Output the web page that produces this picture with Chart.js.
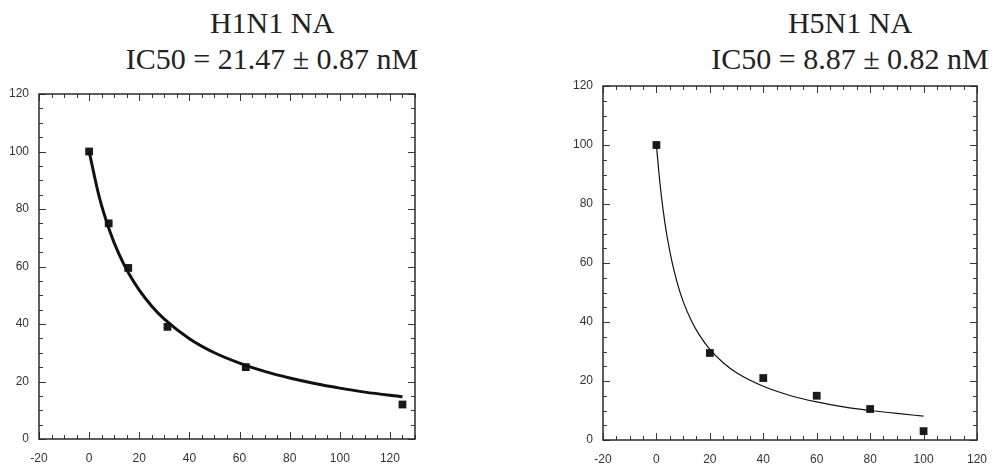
<!DOCTYPE html>
<html>
<head>
<meta charset="UTF-8">
<title>NA IC50</title>
<script src="https://cdn.jsdelivr.net/npm/chart.js"></script>
<style>
  body { margin: 0; background: #fff; width: 999px; height: 469px; position: relative; overflow: hidden; }
  canvas { position: absolute; top: 0; }
  .title {
    position: absolute; top: 5px;
    font-family: 'Liberation Serif', 'Times New Roman', serif;
    font-size: 30px; line-height: 36px; color: #222;
    text-align: center; white-space: nowrap;
    transform: translateX(-50%);
  }
</style>
</head>
<body>
  <div class="title" style="left:272px">H1N1 NA<br>IC50 = 21.47 ± 0.87 nM</div>
  <div class="title" style="left:850px">H5N1 NA<br>IC50 = 8.87 ± 0.82 nM</div>
  <canvas id="h1n1" width="500" height="469" style="left:0"></canvas>
  <canvas id="h5n1" width="499" height="469" style="left:500px"></canvas>

<script>
  // measured points
  const h1Conc = [0, 7.8, 15.6, 31.25, 62.5, 125];
  const h1Inhib = [100, 75, 59.5, 39, 25, 12];
  const h5Conc = [0, 20, 40, 60, 80, 100];
  const h5Inhib = [100, 29.5, 21, 15, 10.5, 3];

  // fitted curves
  const h1FitConc = [0, 4, 8, 12, 16, 20, 25, 30, 40, 50, 60, 70, 80, 90, 100, 110, 125];
  const h1FitInhib = [100, 84.3, 72.9, 64.1, 57.3, 51.8, 46.2, 41.7, 34.9, 30, 26.4, 23.5, 21.2, 19.3, 17.7, 16.3, 14.7];
  const h5FitConc = [0, 1, 2, 3, 4, 6, 8, 10, 13, 16, 20, 25, 30, 40, 50, 60, 70, 80, 90, 100];
  const h5FitInhib = [100, 89.9, 81.6, 74.7, 68.9, 59.7, 52.6, 47, 40.6, 35.7, 30.7, 26.2, 22.8, 18.2, 15.1, 12.9, 11.2, 10, 9, 8.1];

  const yTicks = [0, 20, 40, 60, 80, 100, 120];

  Chart.defaults.font.family = "'Liberation Sans', Arial, sans-serif";
  Chart.defaults.font.size = 12;
  Chart.defaults.color = '#333';

  const toXY = (xs, ys) => xs.map((x, i) => ({ x: x, y: ys[i] }));

  // frame box + inward ticks on all four sides (major every 20, minor every 5)
  const frameTicks = {
    id: 'frameTicks',
    beforeDatasetsDraw(chart) {
      const { ctx, chartArea: a, scales: { x, y } } = chart;
      ctx.save();
      ctx.strokeStyle = '#3a3a3a';
      ctx.lineWidth = 1;
      ctx.beginPath();
      for (let v = x.min; v <= x.max; v += 5) {
        const px = Math.round(x.getPixelForValue(v)) + 0.5;
        const len = v % 20 === 0 ? 7 : 4;
        ctx.moveTo(px, a.bottom); ctx.lineTo(px, a.bottom - len);
        ctx.moveTo(px, a.top); ctx.lineTo(px, a.top + len);
      }
      for (let v = y.min; v <= y.max; v += 5) {
        const py = Math.round(y.getPixelForValue(v)) + 0.5;
        const len = v % 20 === 0 ? 7 : 4;
        ctx.moveTo(a.left, py); ctx.lineTo(a.left + len, py);
        ctx.moveTo(a.right, py); ctx.lineTo(a.right - len, py);
      }
      ctx.stroke();
      ctx.lineWidth = 1.5;
      ctx.strokeStyle = '#2a2a2a';
      ctx.strokeRect(a.left, a.top, a.right - a.left, a.bottom - a.top);
      ctx.restore();
    }
  };

  function makeChart(id, pts, fit, xMax, fitWidth, pad, yWidth, xHeight) {
    new Chart(document.getElementById(id), {
      type: 'scatter',
      data: {
        datasets: [
          {
            data: fit,
            showLine: true,
            borderColor: '#111',
            borderWidth: fitWidth,
            pointRadius: 0,
            cubicInterpolationMode: 'monotone'
          },
          {
            data: pts,
            pointStyle: 'rect',
            pointRadius: 5.5,
            backgroundColor: '#1a1a1a',
            borderColor: '#1a1a1a',
            borderWidth: 0
          }
        ]
      },
      options: {
        responsive: false,
        animation: false,
        layout: { padding: pad },
        plugins: { legend: { display: false }, tooltip: { enabled: false } },
        scales: {
          x: {
            type: 'linear', min: -20, max: xMax,
            grid: { display: false, drawTicks: false },
            border: { display: false },
            ticks: { stepSize: 20, includeBounds: false, padding: 12 },
            afterFit: s => { s.height = xHeight; }
          },
          y: {
            type: 'linear', min: 0, max: 120,
            grid: { display: false, drawTicks: false },
            border: { display: false },
            afterBuildTicks: s => { s.ticks = yTicks.map(v => ({ value: v })); },
            ticks: { padding: 10 },
            afterFit: s => { s.width = yWidth; }
          }
        }
      },
      plugins: [frameTicks]
    });
  }

  makeChart('h1n1', toXY(h1Conc, h1Inhib), toXY(h1FitConc, h1FitInhib), 130, 3,
    { left: 0, top: 94, right: 85, bottom: 0 }, 39, 30);
  makeChart('h5n1', toXY(h5Conc, h5Inhib), toXY(h5FitConc, h5FitInhib), 120, 1.2,
    { left: 0, top: 86, right: 19, bottom: 0 }, 103, 29);
</script>
</body>
</html>
